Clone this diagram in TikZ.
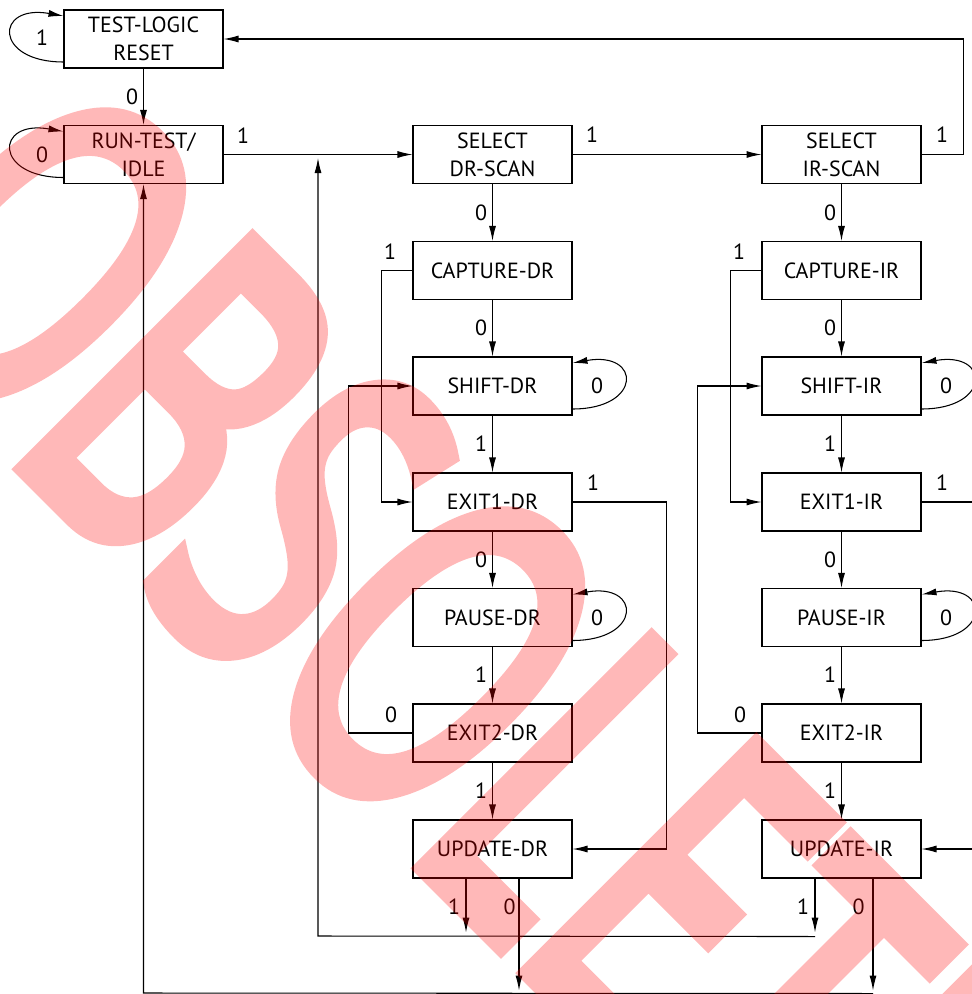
\documentclass[tikz,border=0pt]{standalone}
\usepackage{fontspec}
\setmainfont{PT Sans}
\newfontfamily\wmfont{Open Sans}[FakeBold=5]
\usetikzlibrary{arrows.meta}

\tikzset{
  state/.style={draw, line width=0.6pt, minimum width=3.18cm, minimum height=1.16cm,
    align=center, inner sep=0pt, font=\fontsize{12.5}{15.9}\selectfont},
  lbl/.style={inner sep=0pt, font=\fontsize{12.5}{15}\selectfont},
  wire/.style={line width=0.6pt, -{Latex[length=0.3cm,width=0.14cm]}},
  wmark/.style={text=red, inner sep=0pt,
    font=\wmfont\fontsize{254}{254}\selectfont},
}

\begin{document}
\begin{tikzpicture}[x=0.02cm, y=-0.02cm]
  \useasboundingbox (0,0) rectangle (972,994);
  \clip (0,0) rectangle (972,994);

  % reset and idle states
  \node[state] (tlr) at (143.5,39) {TEST-LOGIC\\RESET};
  \node[state] (rti) at (143.5,154.5) {RUN-TEST/\\IDLE};
  \draw[wire] ([yshift=-0.46cm]tlr.west) to[out=180,in=170,distance=1.4cm] ([yshift=0.46cm]tlr.west);
  \draw[wire] ([yshift=-0.46cm]rti.west) to[out=180,in=170,distance=1.4cm] ([yshift=0.46cm]rti.west);
  \draw[wire] (tlr) -- (rti);
  \node[lbl] (tt) at (42,38) {1};
  \node[lbl] (tr) at (132,97) {0};
  \node[lbl] (rr) at (42,154.5) {0};
  \node[lbl] (rs) at (243,136) {1};

  % the two scan columns
  \foreach \reg/\x/\z in {DR/492.5/0.53cm, IR/841.5/0.63cm} {
    \node[state] (sel\reg) at (\x,154.5) {SELECT\\\reg-SCAN};
    \node[state] (cap\reg) at (\x,270.5) {CAPTURE-\reg};
    \node[state] (shift\reg) at (\x,386) {SHIFT-\reg};
    \node[state] (exa\reg) at (\x,502) {EXIT1-\reg};
    \node[state] (pause\reg) at (\x,617.5) {PAUSE-\reg};
    \node[state] (exb\reg) at (\x,733) {EXIT2-\reg};
    \node[state] (upd\reg) at (\x,849) {UPDATE-\reg};

    \draw[wire] (sel\reg) -- (cap\reg);
    \draw[wire] (cap\reg) -- (shift\reg);
    \draw[wire] (shift\reg) -- (exa\reg);
    \draw[wire] (exa\reg) -- (pause\reg);
    \draw[wire] (pause\reg) -- (exb\reg);
    \draw[wire] (exb\reg) -- (upd\reg);
    \draw[wire] (cap\reg.west) -- ++(-31,0) |- (exa\reg.west);
    \draw[wire] (exb\reg.west) -- ++(-64,0) |- (shift\reg.west);
    \draw[wire] (exa\reg.east) -- ++(94,0) |- (upd\reg.east);
    \draw[wire] ([yshift=-0.46cm]shift\reg.east) to[out=0,in=10,distance=1.4cm] ([yshift=0.46cm]shift\reg.east);
    \draw[wire] ([yshift=-0.46cm]pause\reg.east) to[out=0,in=10,distance=1.4cm] ([yshift=0.46cm]pause\reg.east);
    \draw[wire] ([xshift=-0.53cm]upd\reg.south) -- ++(0,54);
    \draw[wire] ([xshift=\z]upd\reg.south) -- ++(0,112);

    \node[lbl] (sc\reg) at (\x-11.5,212.5) {0};
    \node[lbl] (ce\reg) at (\x-102.5,252) {1};
    \node[lbl] (cs\reg) at (\x-11.5,328) {0};
    \node[lbl] (ss\reg) at (\x+104.5,386) {0};
    \node[lbl] (se\reg) at (\x-11.5,444) {1};
    \node[lbl] (eu\reg) at (\x+100.5,483) {1};
    \node[lbl] (ep\reg) at (\x-11.5,559.5) {0};
    \node[lbl] (pp\reg) at (\x+104.5,617.5) {0};
    \node[lbl] (pe\reg) at (\x-11.5,675) {1};
    \node[lbl] (es\reg) at (\x-101.5,715) {0};
    \node[lbl] (eb\reg) at (\x-11.5,791) {1};
    \node[lbl] (ua\reg) at (\x-38.5,907) {1};
    \node[lbl] (ub\reg) at (\x+17,907) {0};
  }

  % scan selection
  \draw[wire] (rti) -- (selDR);
  \draw[wire] (selDR) -- (selIR);
  \draw[wire] (selIR.east) -- ++(42,0) |- (tlr.east);
  \node[lbl] (sd) at (592,135) {1};
  \node[lbl] (si) at (942,135) {1};

  % return paths
  \coordinate (busA) at (318,936);
  \coordinate (busB) at (143.5,993);
  \draw[wire] ([xshift=-0.53cm]updIR.south) ++(0,58) -- (busA) -- ([yshift=-0.07cm]busA |- rti.east);
  \draw[wire] ([xshift=0.63cm]updIR.south) ++(0,115) -- (busB) -- (rti.south);

  % watermark
  \begin{scope}[transparency group, opacity=0.28]
    \node[wmark, rotate=-45, anchor=base west] (obs) at (-153,289) {\scalebox{0.64}[1]{OBSOLETE}};
  \end{scope}
\end{tikzpicture}
\end{document}
